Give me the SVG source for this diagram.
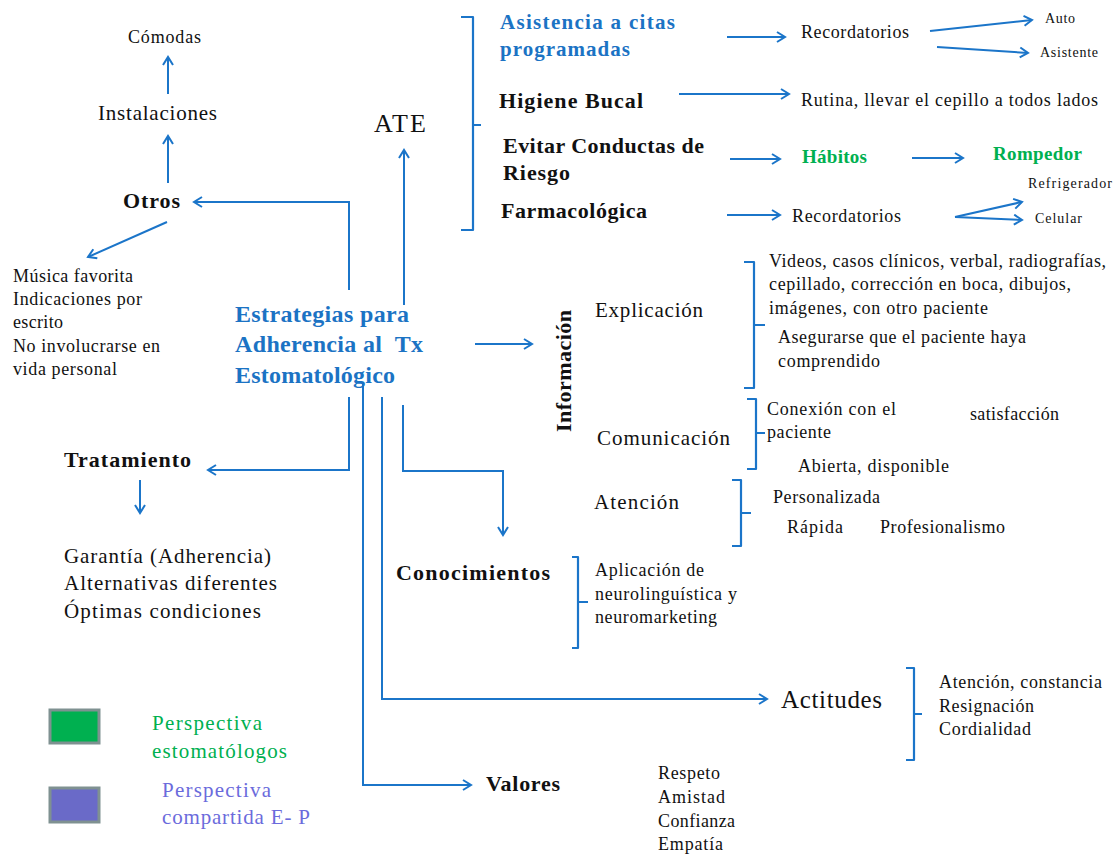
<svg xmlns="http://www.w3.org/2000/svg" width="1114" height="854" viewBox="0 0 1114 854">
<style>
text{font-family:"Liberation Serif","Times New Roman",serif;fill:#111}
.b{font-weight:bold}
.blue{fill:#1b73c4}
.green{fill:#00b050}
.purple{fill:#6b6bdc}
.s14{font-size:14px}
.s18{font-size:18px}
.s21{font-size:21px}
.s22{font-size:22px}
.ln{fill:none;stroke:#1b75c9;stroke-width:2}
.ar{marker-end:url(#ah)}
.br{fill:none;stroke:#1b75c9;stroke-width:2.2;stroke-linejoin:round}
</style>
<defs>
<marker id="ah" markerUnits="userSpaceOnUse" markerWidth="14" markerHeight="14" refX="10" refY="6" orient="auto">
<path d="M2,1 L10,6 L2,11" fill="none" stroke="#1b75c9" stroke-width="2"/>
</marker>
</defs>
<rect width="1114" height="854" fill="#fff"/>

<g id="connectors">
<path class="ln ar" d="M349,290 V202 H194"/>
<path class="ln ar" d="M404,305 V150"/>
<path class="ln ar" d="M168,183 V136"/>
<path class="ln ar" d="M168,94 V57"/>
<path class="ln ar" d="M167,222 L88,257"/>
<path class="ln ar" d="M475,344 H532"/>
<path class="ln ar" d="M349,397 V470 H208"/>
<path class="ln ar" d="M140,480 V513"/>
<path class="ln ar" d="M363,384 V785 H471"/>
<path class="ln ar" d="M382,397 V699 H767"/>
<path class="ln ar" d="M403,405 V471 H503 V535"/>
<path class="ln ar" d="M727,37 H785"/>
<path class="ln ar" d="M930,31 L1032,20"/>
<path class="ln ar" d="M937,47 L1028,53"/>
<path class="ln ar" d="M679,94 H789"/>
<path class="ln ar" d="M730,159 H780"/>
<path class="ln ar" d="M912,158 H963"/>
<path class="ln ar" d="M727,215 H780"/>
<path class="ln ar" d="M955,217 L1022,202"/>
<path class="ln ar" d="M955,217 L1022,220"/>
</g>

<g id="brackets">
<path class="br" d="M461,17 H473 V230 H461 M473,125 H481"/>
<path class="br" d="M744,262 H754 V388 H744 M754,325 H765"/>
<path class="br" d="M747,399 H756 V469 H747 M756,433 H765"/>
<path class="br" d="M732,480 H741 V546 H732 M741,513 H751"/>
<path class="br" d="M572,557 H578 V648 H572 M578,602 H588"/>
<path class="br" d="M906,668 H914 V760 H906 M914,714 H922"/>
</g>

<g id="main">
<text class="b blue" font-size="24" x="235" y="322" textLength="174">Estrategias para</text>
<text class="b blue" font-size="24" x="235" y="352" textLength="188" xml:space="preserve">Adherencia al  Tx</text>
<text class="b blue" font-size="24" x="235" y="383" textLength="160">Estomatológico</text>
</g>

<g id="ate"><text font-size="26" x="374" y="132" textLength="52">ATE</text></g>
<g id="otros"><text class="b s22" x="123" y="208" textLength="57">Otros</text></g>
<g id="instalaciones"><text class="s21" x="98" y="120" textLength="119">Instalaciones</text></g>
<g id="comodas"><text class="s18" x="128" y="43" textLength="73">Cómodas</text></g>
<g id="otros-list">
<text class="s18" x="13" y="282" textLength="120">Música favorita</text>
<text class="s18" x="13" y="305" textLength="129">Indicaciones por</text>
<text class="s18" x="13" y="328" textLength="50">escrito</text>
<text class="s18" x="13" y="352" textLength="147">No involucrarse en</text>
<text class="s18" x="13" y="375" textLength="104">vida personal</text>
</g>

<g id="tratamiento"><text class="b s22" x="64" y="467" textLength="127">Tratamiento</text></g>
<g id="tratamiento-list">
<text class="s21" x="64" y="563" textLength="207">Garantía (Adherencia)</text>
<text class="s21" x="64" y="590" textLength="213">Alternativas diferentes</text>
<text class="s21" x="64" y="618" textLength="197">Óptimas condiciones</text>
</g>

<g id="asistencia">
<text class="b blue s21" x="500" y="29" textLength="175">Asistencia a citas</text>
<text class="b blue s21" x="500" y="56" textLength="130">programadas</text>
</g>
<g id="recordatorios1"><text class="s18" x="801" y="38" textLength="108">Recordatorios</text></g>
<g id="auto"><text class="s14" x="1045" y="23" textLength="30">Auto</text></g>
<g id="asistente"><text class="s14" x="1040" y="57" textLength="58">Asistente</text></g>

<g id="higiene"><text class="b s22" x="499" y="108" textLength="144">Higiene Bucal</text></g>
<g id="rutina"><text class="s18" x="801" y="106" textLength="297">Rutina, llevar el cepillo a todos lados</text></g>

<g id="evitar">
<text class="b s22" x="503" y="153" textLength="201">Evitar Conductas de</text>
<text class="b s22" x="503" y="180" textLength="67">Riesgo</text>
</g>
<g id="habitos"><text class="b green" font-size="19" x="802" y="163" textLength="65">Hábitos</text></g>
<g id="rompedor"><text class="b green" font-size="19" x="993" y="160" textLength="89">Rompedor</text></g>

<g id="farmacologica"><text class="b s22" x="501" y="218" textLength="146">Farmacológica</text></g>
<g id="recordatorios2"><text class="s18" x="792" y="222" textLength="109">Recordatorios</text></g>
<g id="refrigerador"><text class="s14" x="1028" y="188" textLength="84">Refrigerador</text></g>
<g id="celular"><text class="s14" x="1035" y="223" textLength="47">Celular</text></g>

<g id="informacion"><text class="b s22" transform="translate(571,371) rotate(-90)" x="0" y="0" text-anchor="middle" textLength="122">Información</text></g>

<g id="explicacion"><text class="s21" x="595" y="317" textLength="108">Explicación</text></g>
<g id="explicacion-list">
<text class="s18" x="769" y="267" textLength="337">Videos, casos clínicos, verbal, radiografías,</text>
<text class="s18" x="769" y="290" textLength="302">cepillado, corrección en boca, dibujos,</text>
<text class="s18" x="769" y="314" textLength="219">imágenes, con otro paciente</text>
<text class="s18" x="778" y="343" textLength="248">Asegurarse que el paciente haya</text>
<text class="s18" x="778" y="367" textLength="102">comprendido</text>
</g>

<g id="comunicacion"><text class="s21" x="597" y="445" textLength="133">Comunicación</text></g>
<g id="comunicacion-list">
<text class="s18" x="767" y="415" textLength="129">Conexión con el</text>
<text class="s18" x="767" y="438" textLength="64">paciente</text>
<text class="s18" x="970" y="420" textLength="89">satisfacción</text>
<text class="s18" x="798" y="472" textLength="151">Abierta, disponible</text>
</g>

<g id="atencion"><text class="s21" x="594" y="509" textLength="85">Atención</text></g>
<g id="atencion-list">
<text class="s18" x="773" y="503" textLength="107">Personalizada</text>
<text class="s18" x="787" y="533" textLength="56">Rápida</text>
<text class="s18" x="880" y="533" textLength="125">Profesionalismo</text>
</g>

<g id="conocimientos"><text class="b s22" x="396" y="580" textLength="154">Conocimientos</text></g>
<g id="conocimientos-list">
<text class="s18" x="595" y="576" textLength="109">Aplicación de</text>
<text class="s18" x="595" y="600" textLength="142">neurolinguística y</text>
<text class="s18" x="595" y="623" textLength="122">neuromarketing</text>
</g>

<g id="actitudes"><text font-size="25" x="781" y="708" textLength="101">Actitudes</text></g>
<g id="actitudes-list">
<text class="s18" x="939" y="688" textLength="163">Atención, constancia</text>
<text class="s18" x="939" y="712" textLength="95">Resignación</text>
<text class="s18" x="939" y="735" textLength="92">Cordialidad</text>
</g>

<g id="valores"><text class="b s22" x="486" y="791" textLength="74">Valores</text></g>
<g id="valores-list">
<text class="s18" x="658" y="779" textLength="62">Respeto</text>
<text class="s18" x="658" y="803" textLength="67">Amistad</text>
<text class="s18" x="658" y="827" textLength="77">Confianza</text>
<text class="s18" x="658" y="850" textLength="65">Empatía</text>
</g>

<g id="legend">
<rect x="50" y="710" width="49" height="33" fill="#00b050" stroke="#7f9191" stroke-width="3"/>
<text class="green s21" x="152" y="730" textLength="110">Perspectiva</text>
<text class="green s21" x="152" y="758" textLength="135">estomatólogos</text>
<rect x="50" y="788" width="49" height="34" fill="#6a6ac8" stroke="#7f9191" stroke-width="3"/>
<text class="purple s21" x="162" y="797" textLength="109">Perspectiva</text>
<text class="purple s21" x="162" y="824" textLength="148">compartida E- P</text>
</g>
</svg>
